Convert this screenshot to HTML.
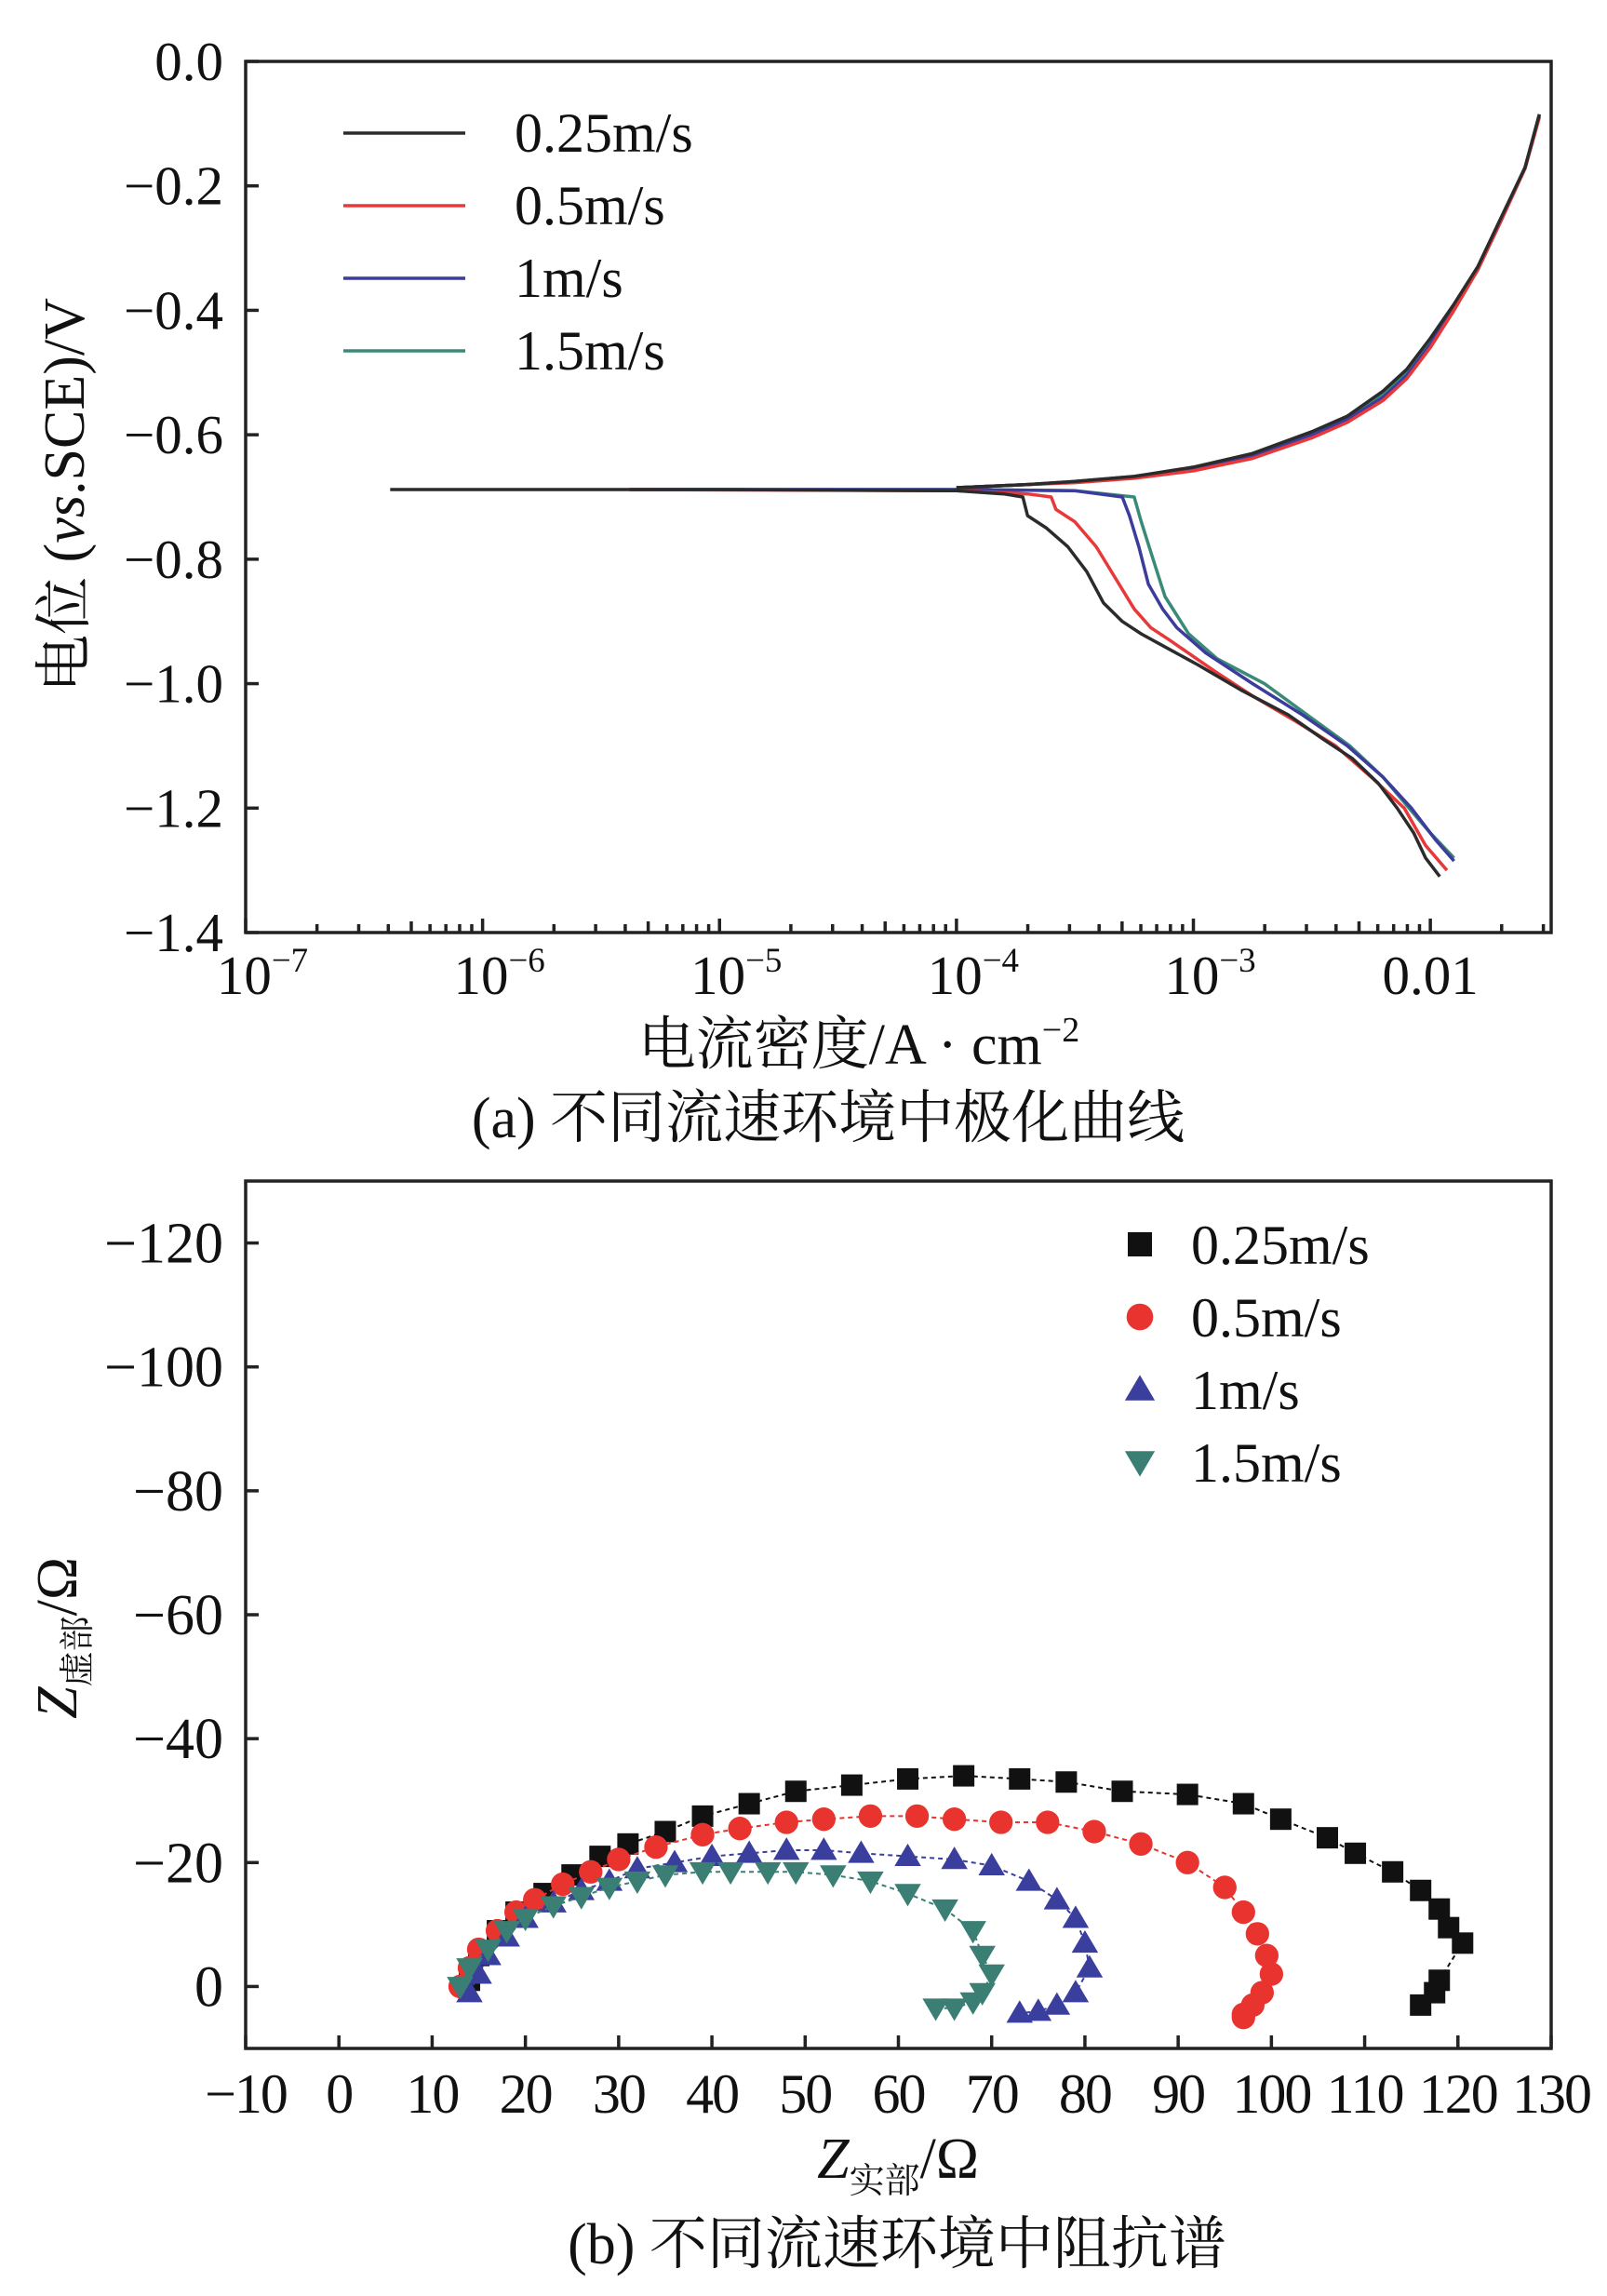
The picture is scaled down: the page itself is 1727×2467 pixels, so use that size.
<!DOCTYPE html>
<html><head><meta charset="utf-8">
<style>
html,body{margin:0;padding:0;background:#fff;}
svg{display:block;font-family:"Liberation Serif","Noto Serif CJK SC",serif;}
</style></head>
<body>
<svg id="fig" width="1727" height="2467" viewBox="0 0 1727 2467" xmlns="http://www.w3.org/2000/svg">
<g id="topChart"></g>
<g id="botChart"></g>
</svg>
<script>
// ---- Chart (a) polarization data: log10(current density), potential (V)
const seriesNames = ["0.25m/s","0.5m/s","1m/s","1.5m/s"];
const seriesColors = ["#2b2b2b","#e8383a","#3b3c9c","#3a8a78"];
const xTicksA = [-7,-6,-5,-4,-3,-2];
const xTickLabelsA = ["10","10","10","10","10","0.01"];
const xTickExpA = ["−7","−6","−5","−4","−3",""];
const yTicksA = [0,-0.2,-0.4,-0.6,-0.8,-1.0,-1.2,-1.4];
const yTickLabelsA = ["0.0","−0.2","−0.4","−0.6","−0.8","−1.0","−1.2","−1.4"];
const logI_black = [-6.39,-5,-4,-3.8,-3.72,-3.7,-3.62,-3.53,-3.45,-3.38,-3.3,-3.22,-3.1,-2.98,-2.8,-2.6,-2.45,-2.33,-2.22,-2.14,-2.07,-2.02,-1.96];
const E_black = [-0.688,-0.688,-0.69,-0.695,-0.70,-0.73,-0.75,-0.78,-0.82,-0.87,-0.90,-0.92,-0.945,-0.97,-1.01,-1.05,-1.09,-1.12,-1.16,-1.2,-1.24,-1.28,-1.31];
const logI_red = [-5.38,-4,-3.7,-3.6,-3.58,-3.5,-3.41,-3.33,-3.25,-3.18,-3.1,-2.91,-2.75,-2.57,-2.4,-2.25,-2.11,-2.02,-1.93];
const E_red = [-0.688,-0.69,-0.695,-0.70,-0.72,-0.74,-0.78,-0.83,-0.88,-0.91,-0.93,-0.98,-1.02,-1.06,-1.10,-1.15,-1.2,-1.26,-1.30];
const logI_blue = [-5.38,-4,-3.5,-3.3,-3.27,-3.23,-3.19,-3.13,-3.07,-2.95,-2.75,-2.54,-2.35,-2.2,-2.08,-1.98,-1.9];
const E_blue = [-0.688,-0.688,-0.69,-0.70,-0.73,-0.78,-0.84,-0.88,-0.91,-0.95,-1.00,-1.05,-1.10,-1.15,-1.2,-1.25,-1.285];
const logI_green = [-5.38,-4,-3.5,-3.25,-3.22,-3.17,-3.12,-3.07,-3.02,-2.9,-2.7,-2.52,-2.34,-2.2,-2.09,-2.0,-1.9];
const E_green = [-0.688,-0.688,-0.69,-0.70,-0.74,-0.80,-0.86,-0.89,-0.92,-0.96,-1.00,-1.05,-1.10,-1.15,-1.2,-1.24,-1.28];
const logI_anodic = [-4,-3.7,-3.5,-3.25,-3,-2.75,-2.5,-2.35,-2.2,-2.1,-2,-1.9,-1.8,-1.7,-1.6,-1.54];
const E_anodic_black = [-0.685,-0.68,-0.675,-0.667,-0.652,-0.63,-0.595,-0.57,-0.53,-0.495,-0.445,-0.39,-0.33,-0.25,-0.17,-0.085];
const E_anodic_red = [-0.685,-0.68,-0.677,-0.67,-0.658,-0.638,-0.605,-0.58,-0.545,-0.51,-0.46,-0.40,-0.335,-0.255,-0.172,-0.09];
const E_anodic_blue = [-0.685,-0.68,-0.676,-0.668,-0.655,-0.633,-0.60,-0.575,-0.54,-0.505,-0.455,-0.395,-0.335,-0.255,-0.17,-0.088];
const E_anodic_green = [-0.685,-0.68,-0.675,-0.667,-0.653,-0.632,-0.598,-0.572,-0.535,-0.50,-0.452,-0.392,-0.332,-0.252,-0.17,-0.085];

// ---- Chart (b) Nyquist data: Z real, Z imag (ohm)
const xTicksB = [-10,0,10,20,30,40,50,60,70,80,90,100,110,120,130];
const yTicksB = [-120,-100,-80,-60,-40,-20,0];
const zr_black = [14,15,17,19,22,25,28,31,35,39,44,49,55,61,67,73,78,84,91,97,101,106,109,113,116,118,119,120.5,118,117.5,116];
const zi_black = [-1,-5,-9,-12,-15,-18,-21,-23,-25,-27.5,-29.5,-31.5,-32.5,-33.5,-34,-33.5,-33,-31.5,-31,-29.5,-27,-24,-21.5,-18.5,-15.5,-12.5,-9.5,-7,-1,1,3];
const zr_red = [13,14,15,17,19,21,24,27,30,34,39,43,48,52,57,62,66,71,76,81,86,91,95,97,98.5,99.5,100,99,98,97,97];
const zi_red = [0,-3,-6,-9,-12,-14,-16.5,-18.5,-20.5,-22.5,-24.5,-25.5,-26.5,-27,-27.5,-27.5,-27,-26.5,-26.5,-25,-23,-20,-16,-12,-8.5,-5,-2,1,3,4.5,5];
const zr_blue = [14,15,16,18,20,23,26,29,32,36,40,44,48,52,56,61,66,70,74,77,79,80,80.5,79,77,75,73];
const zi_blue = [1,-2,-5,-8,-11,-13.5,-15.5,-17,-19,-20,-21,-21.5,-22,-22,-21.5,-21,-20.5,-19.5,-17,-14,-11,-7,-3,1,3,4,4.3];
const zr_green = [13,14,16,18,20,23,26,29,32,35,39,42,46,49,53,57,61,65,68,69,70,69,68,66,64];
const zi_green = [0,-3,-6,-9,-11,-13,-14.5,-16,-17,-18,-18.5,-18.5,-18.5,-18.5,-18,-17,-15,-12.5,-9,-5,-2,1,2.5,3.5,3.5];

const NS="http://www.w3.org/2000/svg";
function mk(parent,tag,attrs,text){const e=document.createElementNS(NS,tag);for(const k in attrs)e.setAttribute(k,attrs[k]);if(text!==undefined)e.textContent=text;parent.appendChild(e);return e;}

// ===== Chart A =====
const A={l:264,r:1667,t:66,b:1002};
const xA=v=>A.l+(v-(-7))/( -1.49-(-7))*(A.r-A.l);
const yA=v=>A.t+(0-v)/1.4*(A.b-A.t);
const gTop=document.getElementById('topChart');
for(let d=-7;d<=-2;d++){for(let m=1;m<=9;m++){const v=d+Math.log10(m);if(v>-1.49)break;
 const x=xA(v);const tk=mk(gTop,'line',{x1:x,x2:x,y1:A.b,y2:A.b-(m===1?15:(m===5?12:9)),stroke:'#222','stroke-width':3.5});
 
 }}
yTicksA.forEach((v,i)=>{const y=yA(v);
 const tk=mk(gTop,'line',{x1:A.l,x2:A.l+14,y1:y,y2:y,stroke:'#222','stroke-width':3.5});
 
 
 const lb=mk(gTop,'text',{x:240,y:y+20,'font-size':59,'text-anchor':'end',fill:'#111'},yTickLabelsA[i]);
 
 });
xTicksA.forEach((v,i)=>{const x=xA(v);
 const lb=mk(gTop,'text',{x:x+(xTickExpA[i]?18:0),y:1068,'font-size':59,'text-anchor':'middle',fill:'#111'});
 
 
 mk(lb,'tspan',{},xTickLabelsA[i]);
 if(xTickExpA[i])mk(lb,'tspan',{dy:-24,'font-size':37},xTickExpA[i]);});
const fa=mk(gTop,'rect',{x:A.l,y:A.t,width:A.r-A.l,height:A.b-A.t,fill:'none',stroke:'#222','stroke-width':3.5});


function pathA(xs,ys){return xs.map((v,i)=>(i?'L':'M')+xA(v).toFixed(1)+' '+yA(ys[i]).toFixed(1)).join(' ');}
const catX=[logI_black,logI_red,logI_blue,logI_green],catY=[E_black,E_red,E_blue,E_green];
const anY=[E_anodic_black,E_anodic_red,E_anodic_blue,E_anodic_green];
[3,2,1,0].forEach(i=>{
 const p1=mk(gTop,'path',{d:pathA(catX[i],catY[i]),fill:'none',stroke:seriesColors[i],'stroke-width':3.5,'stroke-linejoin':'round'});
 
 
 const p2=mk(gTop,'path',{d:pathA(logI_anodic,anY[i]),fill:'none',stroke:seriesColors[i],'stroke-width':3.5,'stroke-linejoin':'round'});
 
 });
seriesNames.forEach((n,i)=>{const y=143+i*78;
 const l=mk(gTop,'line',{x1:369,x2:500,y1:y,y2:y,stroke:seriesColors[i],'stroke-width':3.5});
 
 
 const tx=mk(gTop,'text',{x:553,y:y+20,'font-size':60,fill:'#111'},n);
 
 });
let t;
t=mk(gTop,'text',{transform:'translate(90,532) rotate(-90)','font-size':62,'text-anchor':'middle',fill:'#111'});


mk(t,'tspan',{},'电位 (');mk(t,'tspan',{'font-style':'italic'},'vs');mk(t,'tspan',{},'.SCE)/V');
t=mk(gTop,'text',{x:923,y:1143,'font-size':62,'text-anchor':'middle',fill:'#111'});


mk(t,'tspan',{},'电流密度/A · cm');mk(t,'tspan',{dy:-24,'font-size':38},'−2');
t=mk(gTop,'text',{x:890,y:1222,'font-size':62,'text-anchor':'middle',fill:'#111'},'(a) 不同流速环境中极化曲线');



// ===== Chart B =====
const B={l:264,r:1667,t:1269,b:2201};
const xB=v=>B.l+(v+10)/140*(B.r-B.l);
const yB=v=>B.t+(v+130)/140*(B.b-B.t);
const gBot=document.getElementById('botChart');
xTicksB.forEach(v=>{const x=xB(v);
 const tk=mk(gBot,'line',{x1:x,x2:x,y1:B.b,y2:B.b-14,stroke:'#222','stroke-width':3.5});
 
 
 const lb=mk(gBot,'text',{x:x,y:2270,'font-size':60,'text-anchor':'middle',fill:'#111','letter-spacing':-2},v<0?'−'+(-v):String(v));
 
 });
yTicksB.forEach(v=>{const y=yB(v);
 const tk=mk(gBot,'line',{x1:B.l,x2:B.l+14,y1:y,y2:y,stroke:'#222','stroke-width':3.5});
 
 
 const lb=mk(gBot,'text',{x:240,y:y+21,'font-size':62,'text-anchor':'end',fill:'#111'},v<0?'−'+(-v):String(v));
 
 });
const fb=mk(gBot,'rect',{x:B.l,y:B.t,width:B.r-B.l,height:B.b-B.t,fill:'none',stroke:'#222','stroke-width':3.5});


function marker(g,type,x,y,c,s){
 if(type===0)return mk(g,'rect',{x:x-s/2,y:y-s/2,width:s,height:s,fill:c});
 if(type===1)return mk(g,'circle',{cx:x,cy:y,r:s*0.55,fill:c});
 if(type===2)return mk(g,'polygon',{points:`${x},${y-s*0.6} ${x-s*0.62},${y+s*0.45} ${x+s*0.62},${y+s*0.45}`,fill:c});
 return mk(g,'polygon',{points:`${x},${y+s*0.6} ${x-s*0.62},${y-s*0.45} ${x+s*0.62},${y-s*0.45}`,fill:c});}
const bx=[zr_black,zr_red,zr_blue,zr_green],by=[zi_black,zi_red,zi_blue,zi_green];
const mcol=["#111111","#e8332e","#3a3f9e","#3b7f74"];
[0,1,2,3].forEach(i=>{
 const d=bx[i].map((v,k)=>(k?'L':'M')+xB(v).toFixed(1)+' '+yB(by[i][k]).toFixed(1)).join(' ');
 const p=mk(gBot,'path',{d:d,fill:'none',stroke:mcol[i],'stroke-width':2,'stroke-dasharray':'5 4'});
 
 
 bx[i].forEach((v,k)=>{const m=marker(gBot,i,xB(v),yB(by[i][k]),mcol[i],23);
  
  });});
seriesNames.forEach((n,i)=>{const y=1337+i*78;
 const m=marker(gBot,i,1225,y,mcol[i],26);
 
 
 const tt=mk(gBot,'text',{x:1280,y:y+21,'font-size':60,fill:'#111'},n);
 
 });
t=mk(gBot,'text',{transform:'translate(82,1760) rotate(-90)','font-size':62,'text-anchor':'middle',fill:'#111'});


mk(t,'tspan',{'font-style':'italic'},'Z');mk(t,'tspan',{dy:14,'font-size':38},'虚部');mk(t,'tspan',{dy:-14},'/Ω');
t=mk(gBot,'text',{x:965,y:2340,'font-size':62,'text-anchor':'middle',fill:'#111'});


mk(t,'tspan',{'font-style':'italic'},'Z');mk(t,'tspan',{dy:16,'font-size':38},'实部');mk(t,'tspan',{dy:-16},'/Ω');
t=mk(gBot,'text',{x:964,y:2432,'font-size':62,'text-anchor':'middle',fill:'#111'},'(b) 不同流速环境中阻抗谱');


</script>
</body></html>
